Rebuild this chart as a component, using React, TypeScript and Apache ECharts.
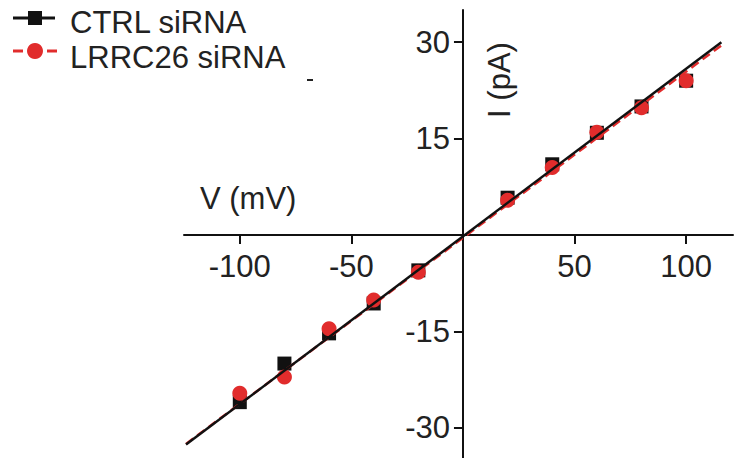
import React, { useEffect, useRef } from "react";
import * as echarts from "echarts";

const voltages = [-100, -80, -60, -40, -20, 20, 40, 60, 80, 100];
const ctrlCurrent = [-26.0, -20.0, -15.3, -10.65, -5.5, 5.8, 11.0, 15.9, 20.0, 24.0];
const lrrcCurrent = [-24.6, -22.1, -14.6, -10.1, -5.8, 5.4, 10.5, 16.0, 19.8, 24.0];

const ctrlFitV = [-124.1, 115.8];
const ctrlFitI = [-32.6, 30.0];
const lrrcFitV = [-124.1, 115.8];
const lrrcFitI = [-32.5, 29.5];

const xTicks = [-100, -50, 50, 100];
const yTicks = [-30, -15, 15, 30];

const seriesNames = ["CTRL siRNA", "LRRC26 siRNA"];
const xName = "V (mV)";
const yName = "I (pA)";

const RED = "#e12c2c";
const FONT = "Liberation Sans";
const FS = 31;

// grid geometry
const GL = 184, GT = 10, GW = 549, GH = 450;
const XMIN = -125, XMAX = 121, YMIN = -35, YMAX = 35;

export default function App() {
  const ref = useRef<HTMLDivElement>(null);
  useEffect(() => {
    if (!ref.current) return;
    const chart = echarts.init(ref.current, null, { renderer: "svg" });
    const pairs = (xs: number[], ys: number[]) => xs.map((x, i) => [x, ys[i]]);
    // distance from grid edges to the zero lines
    const xAxisOffset = -(GH * (0 - YMIN)) / (YMAX - YMIN);
    const yAxisOffset = -(GW * (0 - XMIN)) / (XMAX - XMIN);
    chart.setOption({
      animation: false,
      backgroundColor: "#ffffff",
      grid: {
        left: GL,
        top: GT,
        width: GW,
        height: GH,
        containLabel: false,
        outerBoundsMode: "none",
      },
      xAxis: {
        type: "value",
        min: XMIN,
        max: XMAX,
        position: "bottom",
        offset: xAxisOffset,
        axisLine: { onZero: false, lineStyle: { color: "#111", width: 2 } },
        axisTick: { show: true, length: 9, customValues: xTicks, lineStyle: { color: "#111", width: 2 } },
        axisLabel: { customValues: xTicks, margin: 16, fontSize: FS, fontFamily: FONT, color: "#222" },
        splitLine: { show: false },
      },
      yAxis: {
        type: "value",
        min: YMIN,
        max: YMAX,
        position: "left",
        offset: yAxisOffset,
        axisLine: { onZero: false, lineStyle: { color: "#111", width: 2 } },
        axisTick: { show: true, length: 9, customValues: yTicks, lineStyle: { color: "#111", width: 2 } },
        axisLabel: { customValues: yTicks, margin: 13, fontSize: FS, fontFamily: FONT, color: "#222" },
        splitLine: { show: false },
      },
      series: [
        {
          name: seriesNames[0],
          type: "scatter",
          data: pairs(voltages, ctrlCurrent),
          symbol: "rect",
          symbolSize: 14,
          itemStyle: { color: "#111", opacity: 1 },
          z: 2,
        },
        {
          name: seriesNames[1],
          type: "scatter",
          data: pairs(voltages, lrrcCurrent),
          symbol: "circle",
          symbolSize: 15,
          itemStyle: { color: RED, opacity: 1 },
          z: 3,
        },
        {
          name: seriesNames[1] + " fit",
          type: "line",
          data: pairs(lrrcFitV, lrrcFitI),
          showSymbol: false,
          lineStyle: { color: RED, width: 2.5, type: [9, 5] },
          z: 4,
        },
        {
          name: seriesNames[0] + " fit",
          type: "line",
          data: pairs(ctrlFitV, ctrlFitI),
          showSymbol: false,
          lineStyle: { color: "#111", width: 2.5 },
          z: 5,
        },
      ],
      graphic: [
        { type: "line", shape: { x1: 13, y1: 18, x2: 55, y2: 18 }, style: { stroke: "#111", lineWidth: 3 } },
        { type: "rect", shape: { x: 28, y: 11, width: 14, height: 14 }, style: { fill: "#111" } },
        { type: "line", shape: { x1: 13, y1: 51, x2: 23, y2: 51 }, style: { stroke: RED, lineWidth: 3 } },
        { type: "line", shape: { x1: 47, y1: 51, x2: 57, y2: 51 }, style: { stroke: RED, lineWidth: 3 } },
        { type: "circle", shape: { cx: 35, cy: 51, r: 8 }, style: { fill: RED } },
        {
          type: "text",
          x: 70,
          y: 22,
          style: { text: seriesNames[0], fontSize: FS, fontFamily: FONT, fill: "#222", verticalAlign: "middle", align: "left" },
        },
        {
          type: "text",
          x: 70,
          y: 57,
          style: { text: seriesNames[1], fontSize: FS, fontFamily: FONT, fill: "#222", verticalAlign: "middle", align: "left" },
        },
        { type: "rect", shape: { x: 307, y: 79, width: 6, height: 2 }, style: { fill: "#222" } },
        {
          type: "text",
          x: 200,
          y: 198,
          style: { text: xName, fontSize: FS, fontFamily: FONT, fill: "#222", verticalAlign: "middle", align: "left" },
        },
        {
          type: "text",
          x: 499,
          y: 80,
          rotation: Math.PI / 2,
          style: { text: yName, fontSize: FS, fontFamily: FONT, fill: "#222", verticalAlign: "middle", align: "center" },
        },
      ],
    });
    return () => chart.dispose();
  }, []);
  return (
    <div
      ref={ref}
      style={{ position: "fixed", left: 0, top: 0, width: 734, height: 458, background: "#fff" }}
    />
  );
}
